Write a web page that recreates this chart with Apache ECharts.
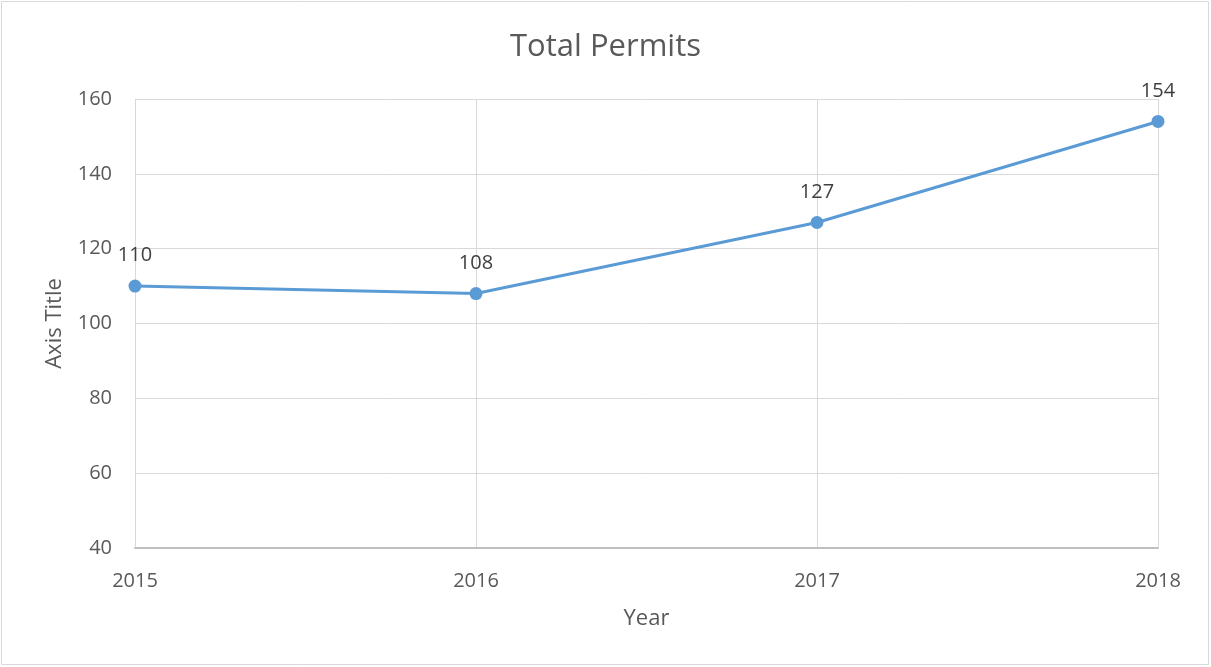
<!DOCTYPE html>
<html>
<head>
<meta charset="utf-8">
<title>Total Permits</title>
<script src="https://cdn.jsdelivr.net/npm/echarts@6/dist/echarts.min.js"></script>
<style>
  html, body { margin: 0; padding: 0; background: #fff; }
  #chart { width: 1211px; height: 667px; }
</style>
</head>
<body>
<div id="chart"></div>
<script>
const years = ['2015', '2016', '2017', '2018'];
const permits = [110, 108, 127, 154];

const chart = echarts.init(document.getElementById('chart'));

const font = 'Open Sans';

chart.setOption({
  animation: false,
  textStyle: { fontFamily: font },
  title: {
    text: 'Total Permits',
    left: 'center',
    top: 27,
    textStyle: { fontFamily: font, fontSize: 31, fontWeight: 'normal', color: '#595959' }
  },
  graphic: [{
    type: 'rect',
    shape: { x: 1.5, y: 1.5, width: 1207, height: 663 },
    style: { fill: 'none', stroke: '#d9d9d9', lineWidth: 1 },
    silent: true
  }],
  grid: { left: 135, right: 53, top: 99, bottom: 119 },
  xAxis: {
    type: 'category',
    data: years,
    boundaryGap: false,
    name: 'Year',
    nameLocation: 'middle',
    nameGap: 60,
    nameTextStyle: { fontSize: 22, color: '#595959' },
    axisLine: { lineStyle: { color: '#bfbfbf', width: 2 } },
    axisTick: { show: false },
    axisLabel: { fontSize: 20, color: '#595959', margin: 23 },
    splitLine: { show: true, lineStyle: { color: '#d9d9d9', width: 1 } }
  },
  yAxis: {
    type: 'value',
    min: 40,
    max: 160,
    interval: 20,
    name: 'Axis Title',
    nameLocation: 'middle',
    nameGap: 69,
    nameRotate: 90,
    nameTextStyle: { fontSize: 22, color: '#595959' },
    axisLine: { show: false },
    axisTick: { show: false },
    axisLabel: { fontSize: 20, color: '#595959', margin: 23 },
    splitLine: { lineStyle: { color: '#d9d9d9', width: 1 } }
  },
  series: [{
    type: 'line',
    data: permits,
    symbol: 'circle',
    symbolSize: 13,
    lineStyle: { color: '#5b9bd5', width: 3 },
    itemStyle: { color: '#5b9bd5' },
    label: {
      show: true,
      position: 'top',
      distance: 14,
      fontSize: 20,
      color: '#404040'
    }
  }]
});
</script>
</body>
</html>
